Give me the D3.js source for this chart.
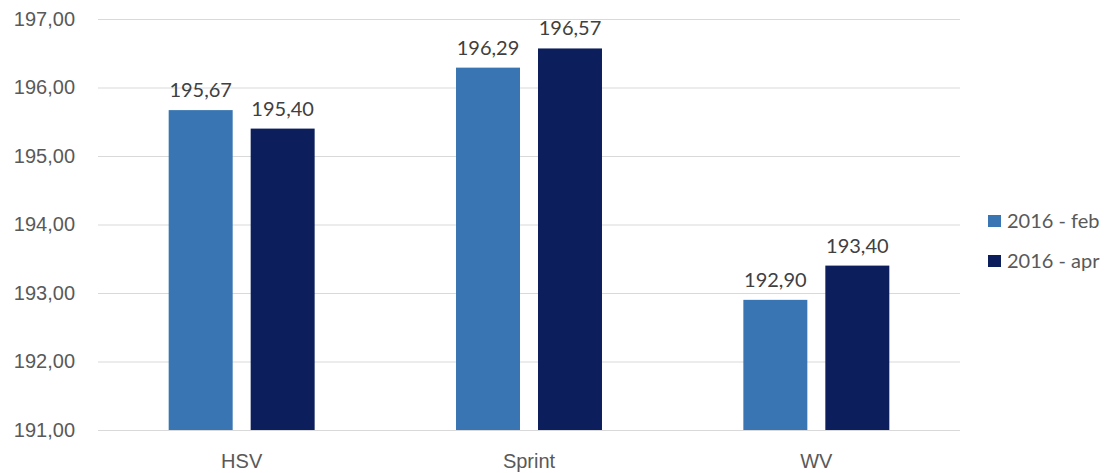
<!DOCTYPE html>
<html>
<head>
<meta charset="utf-8">
<script src="https://cdn.jsdelivr.net/npm/d3@7"></script>
<style>
  html, body { margin: 0; padding: 0; background: #ffffff; }
  svg { display: block; font-family: Lato, "Open Sans", sans-serif; }
</style>
</head>
<body>
<svg id="chart" width="1107" height="473"></svg>
<script>
// Categories, series and values
const categories = ["HSV", "Sprint", "WV"];
const seriesNames = ["2016 - feb", "2016 - apr"];
const febValues = [195.67, 196.29, 192.90];
const aprValues = [195.40, 196.57, 193.40];
const yTicks = [191, 192, 193, 194, 195, 196, 197];
const seriesColors = ["#3875b2", "#0c1f5c"];

const seriesValues = [febValues, aprValues];
const rows = categories.map((c, i) => ({
  category: c,
  values: seriesNames.map((s, j) => ({ series: s, value: seriesValues[j][i], idx: j }))
}));

const svg = d3.select("#chart");
const plot = { left: 98, right: 960, top: 19, bottom: 430 };

const fmt = v => d3.format(".2f")(v).replace(".", ",");

const y = d3.scaleLinear().domain([191, 197]).range([plot.bottom, plot.top]);
const x0 = d3.scaleBand().domain(categories).range([plot.left, plot.right])
  .paddingInner(0.492).paddingOuter(0.246);
const x1 = d3.scaleBand().domain(seriesNames).range([0, x0.bandwidth()])
  .paddingInner(0.2195);
const color = d3.scaleOrdinal().domain(seriesNames).range(seriesColors);

// Gridlines and value axis labels
const yAxis = d3.axisLeft(y).tickValues(yTicks).tickFormat(fmt)
  .tickSize(-(plot.right - plot.left)).tickPadding(23);
const gy = svg.append("g").attr("transform", `translate(${plot.left},0)`).call(yAxis);
gy.select(".domain").remove();
gy.selectAll(".tick line").attr("stroke", "#d9d9d9").attr("stroke-width", 1);
gy.selectAll(".tick text").attr("fill", "#595959").attr("font-size", 20);

// Bars
const groups = svg.append("g").selectAll("g").data(rows).join("g")
  .attr("transform", d => `translate(${x0(d.category)},0)`);

groups.selectAll("rect").data(d => d.values).join("rect")
  .attr("x", d => x1(d.series))
  .attr("y", d => y(d.value))
  .attr("width", x1.bandwidth())
  .attr("height", d => y(191) - y(d.value))
  .attr("fill", d => color(d.series));

// Value labels
groups.selectAll("text.val").data(d => d.values).join("text")
  .attr("class", "val")
  .attr("x", d => x1(d.series) + x1.bandwidth() / 2)
  .attr("y", d => y(d.value) - 13)
  .attr("text-anchor", "middle")
  .attr("fill", "#404040")
  .attr("font-size", 20)
  .text(d => fmt(d.value));

// Category axis
const xAxis = d3.axisBottom(x0).tickSize(0).tickPadding(24);
const gx = svg.append("g").attr("transform", `translate(0,${plot.bottom})`).call(xAxis);
gx.select(".domain").remove();
gx.selectAll(".tick text").attr("fill", "#595959").attr("font-size", 20);

// Legend
const legend = svg.append("g").attr("transform", "translate(988,215)");
const items = legend.selectAll("g").data(seriesNames).join("g")
  .attr("transform", (d, i) => `translate(0,${i * 40})`);
items.append("rect").attr("width", 13).attr("height", 12).attr("fill", d => color(d));
items.append("text").attr("x", 19).attr("y", 6).attr("dy", "0.35em")
  .attr("fill", "#595959").attr("font-size", 20).text(d => d);
</script>
</body>
</html>
